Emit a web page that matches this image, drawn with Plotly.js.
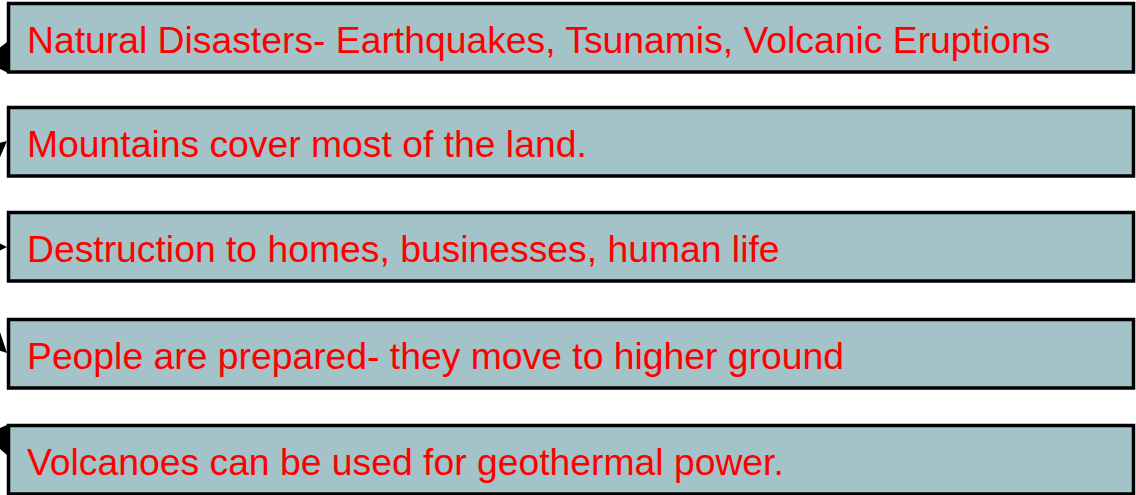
<!DOCTYPE html>
<html>
<head>
<meta charset="utf-8">
<script src="https://cdn.plot.ly/plotly-3.0.1.min.js"></script>
<style>html,body{margin:0;padding:0;background:#fff;}#chart{width:1136px;height:495px;}</style>
</head>
<body>
<div id="chart"></div>
<script>
var labels = [
  "Natural Disasters- Earthquakes, Tsunamis, Volcanic Eruptions",
  "Mountains cover most of the land.",
  "Destruction to homes, businesses, human life",
  "People are prepared- they move to higher ground",
  "Volcanoes can be used for geothermal power."
];

// layout geometry (pixels)
var W = 1136, H = 495;
var boxTops = [2, 106, 211, 318, 424];
var boxH = 70;
var boxLeft = 8.5, boxRight = 1133.5;
var arrowTipY = [42, 141, 247, 353, 455];
var arrowFromY = [70, 152, 247, 340, 425];

var shapes = [], annotations = [];
labels.forEach(function (t, i) {
  var y0 = boxTops[i], y1 = boxTops[i] + boxH;
  shapes.push({
    type: 'rect', xref: 'x', yref: 'y',
    x0: boxLeft, x1: boxRight, y0: y0 + 1.5, y1: y1,
    fillcolor: '#a3c3c8', line: {color: '#000000', width: 3.5}, layer: 'above'
  });
  annotations.push({
    xref: 'x', yref: 'y', x: 25, y: (y0 + y1) / 2 + 3,
    xanchor: 'left', yanchor: 'middle', showarrow: false,
    text: t, font: {family: 'Liberation Sans, Arial, sans-serif', size: 37.3, color: '#ff0000'}
  });
  annotations.push({
    xref: 'x', yref: 'y', axref: 'x', ayref: 'y',
    x: boxLeft - 1.5, y: arrowTipY[i], ax: -6, ay: arrowFromY[i],
    showarrow: true, arrowhead: 2, arrowsize: 2.2, arrowwidth: 2.5, arrowcolor: '#000000', text: ''
  });
});

var layout = {
  width: W, height: H,
  margin: {l: 0, r: 0, t: 0, b: 0},
  paper_bgcolor: '#ffffff', plot_bgcolor: '#ffffff',
  xaxis: {range: [0, W], visible: false, fixedrange: true},
  yaxis: {range: [H, 0], visible: false, fixedrange: true},
  shapes: shapes, annotations: annotations, showlegend: false
};
Plotly.newPlot('chart', [{x: [], y: [], type: 'scatter'}], layout, {displayModeBar: false, staticPlot: true});
</script>
</body>
</html>
